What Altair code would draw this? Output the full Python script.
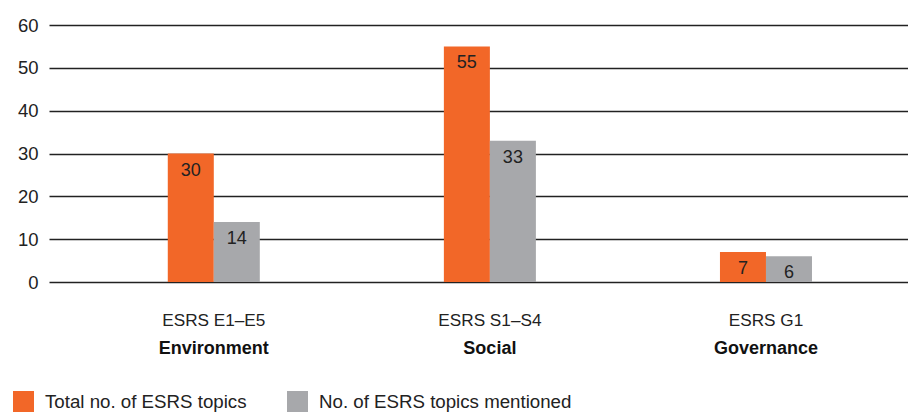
import altair as alt
import pandas as pd

# ESRS topic groups
codes = ["ESRS E1–E5", "ESRS S1–S4", "ESRS G1"]
pillars = ["Environment", "Social", "Governance"]
series = ["Total no. of ESRS topics", "No. of ESRS topics mentioned"]
total_topics = [30, 55, 7]
mentioned_topics = [14, 33, 6]
colors = ["#F26728", "#A7A8AB"]

rows = []
for code, pillar, t, m in zip(codes, pillars, total_topics, mentioned_topics):
    rows.append({"code": code, "pillar": pillar, "series": series[0], "value": t})
    rows.append({"code": code, "pillar": pillar, "series": series[1], "value": m})
df = pd.DataFrame(rows)
names = pd.DataFrame({"code": codes, "pillar": pillars})

W, H = 859, 257
FONT = "Liberation Sans"
INK = "#222222"

x_scale = alt.Scale(domain=codes, paddingInner=0.6667, paddingOuter=0.389, align=0.553)
y_scale = alt.Scale(domain=[0, 60], nice=False)

base = alt.Chart(df).encode(
    x=alt.X("code:N", scale=x_scale, sort=codes,
            axis=alt.Axis(title=None, labelAngle=0, ticks=False, domain=False,
                          labelPadding=29, labelFontSize=17.2, labelColor=INK,
                          labelFont=FONT)),
    xOffset=alt.XOffset("series:N", sort=series, scale=alt.Scale(paddingInner=0, paddingOuter=0)),
    y=alt.Y("value:Q", scale=y_scale,
            axis=alt.Axis(title=None, values=[0, 10, 20, 30, 40, 50, 60], ticks=False,
                          domain=False, grid=True, gridColor=INK, gridWidth=1.3,
                          labelPadding=11, labelFontSize=18.5, labelColor=INK,
                          labelFont=FONT)),
)

bars = base.mark_bar().encode(
    color=alt.Color("series:N", sort=series,
                    scale=alt.Scale(domain=series, range=colors),
                    legend=alt.Legend(title=None, orient="none", legendX=-36, legendY=366,
                                      direction="horizontal", symbolType="square",
                                      symbolSize=441, symbolStrokeWidth=0,
                                      labelFontSize=18.7, labelFont=FONT,
                                      labelColor=INK, labelOffset=11,
                                      columnPadding=40, labelLimit=400))
)

labels = base.mark_text(baseline="top", dy=8, fontSize=18, font=FONT, color=INK).encode(
    text="value:Q"
)

pillar_text = alt.Chart(names).mark_text(
    fontSize=18, fontWeight="bold", font=FONT, color="#111111", baseline="middle"
).encode(
    x=alt.X("code:N", scale=x_scale, sort=codes),
    y=alt.value(H + 67),
    text="pillar:N",
)

chart = alt.layer(bars, labels, pillar_text).properties(
    width=W, height=H,
    autosize=alt.AutoSizeParams(type="none"),
    padding={"left": 49, "top": 25, "right": 0, "bottom": 130},
).configure_view(stroke=None)

chart.save("out.html", embed_options={"renderer": "svg", "actions": False})
